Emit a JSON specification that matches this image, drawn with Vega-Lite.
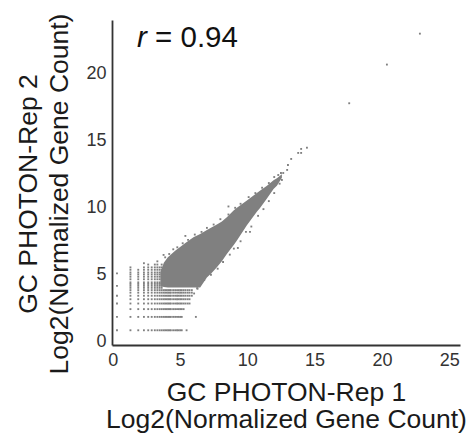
{
"$schema":"https://vega.github.io/schema/vega-lite/v6.json",
"width":348,"height":325,
"autosize":"none",
"padding":{"left":112,"top":20,"right":14,"bottom":91},
"background":"white",
"config":{"view":{"stroke":null},"font":"Liberation Sans"},
"datasets":{
"band":[
{"x":3.55,"lo":4.15,"hi":5.2},{"x":3.8,"lo":4.08,"hi":5.9},{"x":4.1,"lo":4.05,"hi":6.3},{"x":4.64,"lo":4.05,"hi":6.8},{"x":5.3,"lo":4.05,"hi":7.3},{"x":6.0,"lo":4.05,"hi":7.8},{"x":6.5,"lo":4.05,"hi":8.05},{"x":7.0,"lo":4.8,"hi":8.35},{"x":7.37,"lo":5.15,"hi":8.55},{"x":7.74,"lo":5.55,"hi":8.75},{"x":8.11,"lo":6.0,"hi":8.97},{"x":8.48,"lo":6.55,"hi":9.3},{"x":8.98,"lo":7.2,"hi":9.8},{"x":9.23,"lo":7.55,"hi":10.0},{"x":9.97,"lo":8.7,"hi":10.55},{"x":10.71,"lo":9.7,"hi":11.1},{"x":10.96,"lo":10.0,"hi":11.3},{"x":11.46,"lo":10.7,"hi":11.65},{"x":11.95,"lo":11.4,"hi":12.05},{"x":12.2,"lo":11.65,"hi":12.2},{"x":12.57,"lo":12.25,"hi":12.5}
],
"pts":[
{"x":0.32,"y":0.85},{"x":1.32,"y":0.85},{"x":1.9,"y":0.85},{"x":2.32,"y":0.85},{"x":2.64,"y":0.85},{"x":2.9,"y":0.85},{"x":3.13,"y":0.85},{"x":3.32,"y":0.85},{"x":3.49,"y":0.85},{"x":3.64,"y":0.85},{"x":3.78,"y":0.85},{"x":3.9,"y":0.85},{"x":4.02,"y":0.85},{"x":4.13,"y":0.85},{"x":4.23,"y":0.85},{"x":4.32,"y":0.85},{"x":4.49,"y":0.85},{"x":4.64,"y":0.85},{"x":4.78,"y":0.85},{"x":4.9,"y":0.85},{"x":5.02,"y":0.85},{"x":5.13,"y":0.85},{"x":5.49,"y":0.85},
{"x":0.32,"y":1.85},{"x":1.32,"y":1.85},{"x":1.9,"y":1.85},{"x":2.32,"y":1.85},{"x":2.64,"y":1.85},{"x":2.9,"y":1.85},{"x":3.13,"y":1.85},{"x":3.32,"y":1.85},{"x":3.49,"y":1.85},{"x":3.64,"y":1.85},{"x":3.78,"y":1.85},{"x":3.9,"y":1.85},{"x":4.02,"y":1.85},{"x":4.13,"y":1.85},{"x":4.23,"y":1.85},{"x":4.32,"y":1.85},{"x":4.49,"y":1.85},{"x":4.64,"y":1.85},{"x":4.78,"y":1.85},{"x":4.9,"y":1.85},{"x":5.02,"y":1.85},{"x":5.13,"y":1.85},{"x":6.18,"y":1.85},
{"x":1.32,"y":2.43},{"x":1.9,"y":2.43},{"x":2.32,"y":2.43},{"x":2.64,"y":2.43},{"x":2.9,"y":2.43},{"x":3.13,"y":2.43},{"x":3.32,"y":2.43},{"x":3.49,"y":2.43},{"x":3.64,"y":2.43},{"x":3.78,"y":2.43},{"x":3.9,"y":2.43},{"x":4.02,"y":2.43},{"x":4.13,"y":2.43},{"x":4.23,"y":2.43},{"x":4.32,"y":2.43},{"x":4.49,"y":2.43},{"x":4.64,"y":2.43},{"x":4.78,"y":2.43},{"x":4.9,"y":2.43},{"x":5.02,"y":2.43},{"x":5.13,"y":2.43},{"x":5.27,"y":2.43},
{"x":0.32,"y":2.85},{"x":1.32,"y":2.85},{"x":1.9,"y":2.85},{"x":2.32,"y":2.85},{"x":2.64,"y":2.85},{"x":2.9,"y":2.85},{"x":3.13,"y":2.85},{"x":3.32,"y":2.85},{"x":3.49,"y":2.85},{"x":3.64,"y":2.85},{"x":3.78,"y":2.85},{"x":3.9,"y":2.85},{"x":4.02,"y":2.85},{"x":4.13,"y":2.85},{"x":4.23,"y":2.85},{"x":4.32,"y":2.85},{"x":4.49,"y":2.85},{"x":4.64,"y":2.85},{"x":4.78,"y":2.85},{"x":4.9,"y":2.85},{"x":5.02,"y":2.85},{"x":5.13,"y":2.85},{"x":5.27,"y":2.85},{"x":5.41,"y":2.85},{"x":5.57,"y":2.85},{"x":5.71,"y":2.85},
{"x":1.32,"y":3.17},{"x":1.9,"y":3.17},{"x":2.32,"y":3.17},{"x":2.64,"y":3.17},{"x":2.9,"y":3.17},{"x":3.13,"y":3.17},{"x":3.32,"y":3.17},{"x":3.49,"y":3.17},{"x":3.64,"y":3.17},{"x":3.78,"y":3.17},{"x":3.9,"y":3.17},{"x":4.02,"y":3.17},{"x":4.13,"y":3.17},{"x":4.23,"y":3.17},{"x":4.32,"y":3.17},{"x":4.49,"y":3.17},{"x":4.64,"y":3.17},{"x":4.78,"y":3.17},{"x":4.9,"y":3.17},{"x":5.02,"y":3.17},{"x":5.13,"y":3.17},{"x":5.27,"y":3.17},{"x":5.41,"y":3.17},{"x":5.57,"y":3.17},{"x":5.71,"y":3.17},
{"x":0.32,"y":3.43},{"x":1.32,"y":3.43},{"x":1.9,"y":3.43},{"x":2.32,"y":3.43},{"x":2.64,"y":3.43},{"x":2.9,"y":3.43},{"x":3.13,"y":3.43},{"x":3.32,"y":3.43},{"x":3.49,"y":3.43},{"x":3.64,"y":3.43},{"x":3.78,"y":3.43},{"x":3.9,"y":3.43},{"x":4.02,"y":3.43},{"x":4.13,"y":3.43},{"x":4.23,"y":3.43},{"x":4.32,"y":3.43},{"x":4.49,"y":3.43},{"x":4.64,"y":3.43},{"x":4.78,"y":3.43},{"x":4.9,"y":3.43},{"x":5.02,"y":3.43},{"x":5.13,"y":3.43},{"x":5.27,"y":3.43},{"x":5.41,"y":3.43},{"x":5.57,"y":3.43},{"x":5.71,"y":3.43},{"x":5.88,"y":3.43},
{"x":1.32,"y":3.66},{"x":1.9,"y":3.66},{"x":2.32,"y":3.66},{"x":2.64,"y":3.66},{"x":2.9,"y":3.66},{"x":3.13,"y":3.66},{"x":3.32,"y":3.66},{"x":3.49,"y":3.66},{"x":3.64,"y":3.66},{"x":3.78,"y":3.66},{"x":3.9,"y":3.66},{"x":4.02,"y":3.66},{"x":4.13,"y":3.66},{"x":4.23,"y":3.66},{"x":4.32,"y":3.66},{"x":4.49,"y":3.66},{"x":4.64,"y":3.66},{"x":4.78,"y":3.66},{"x":4.9,"y":3.66},{"x":5.02,"y":3.66},{"x":5.13,"y":3.66},{"x":5.27,"y":3.66},{"x":5.41,"y":3.66},{"x":5.57,"y":3.66},{"x":5.71,"y":3.66},{"x":5.88,"y":3.66},
{"x":1.32,"y":3.85},{"x":1.9,"y":3.85},{"x":2.32,"y":3.85},{"x":2.64,"y":3.85},{"x":2.9,"y":3.85},{"x":3.13,"y":3.85},{"x":3.32,"y":3.85},{"x":3.49,"y":3.85},{"x":3.64,"y":3.85},{"x":3.78,"y":3.85},{"x":3.9,"y":3.85},{"x":4.02,"y":3.85},{"x":4.13,"y":3.85},{"x":4.23,"y":3.85},{"x":4.32,"y":3.85},{"x":4.49,"y":3.85},{"x":4.64,"y":3.85},{"x":4.78,"y":3.85},{"x":4.9,"y":3.85},{"x":5.02,"y":3.85},{"x":5.13,"y":3.85},{"x":5.27,"y":3.85},{"x":5.41,"y":3.85},{"x":5.57,"y":3.85},{"x":5.71,"y":3.85},{"x":5.88,"y":3.85},
{"x":0.32,"y":4.17},{"x":0.32,"y":5.1},
{"x":1.32,"y":4.02},{"x":1.32,"y":4.17},{"x":1.32,"y":4.31},{"x":1.32,"y":4.43},{"x":1.32,"y":4.66},{"x":1.32,"y":4.85},{"x":1.32,"y":5.02},{"x":1.32,"y":5.17},{"x":1.32,"y":5.37},{"x":1.32,"y":5.55},
{"x":1.9,"y":4.02},{"x":1.9,"y":4.17},{"x":1.9,"y":4.31},{"x":1.9,"y":4.43},{"x":1.9,"y":4.66},{"x":1.9,"y":4.85},{"x":1.9,"y":5.02},{"x":1.9,"y":5.17},{"x":1.9,"y":5.37},
{"x":2.32,"y":4.02},{"x":2.32,"y":4.17},{"x":2.32,"y":4.31},{"x":2.32,"y":4.43},{"x":2.32,"y":4.66},{"x":2.32,"y":4.85},{"x":2.32,"y":5.02},{"x":2.32,"y":5.17},{"x":2.32,"y":5.37},{"x":2.32,"y":5.55},{"x":2.32,"y":5.86},
{"x":2.64,"y":4.02},{"x":2.64,"y":4.17},{"x":2.64,"y":4.31},{"x":2.64,"y":4.43},{"x":2.64,"y":4.66},{"x":2.64,"y":4.85},{"x":2.64,"y":5.02},{"x":2.64,"y":5.17},{"x":2.64,"y":5.37},{"x":2.64,"y":5.55},{"x":2.64,"y":5.76},
{"x":2.9,"y":4.02},{"x":2.9,"y":4.17},{"x":2.9,"y":4.31},{"x":2.9,"y":4.43},{"x":2.9,"y":4.66},{"x":2.9,"y":4.85},{"x":2.9,"y":5.02},{"x":2.9,"y":5.17},{"x":2.9,"y":5.37},{"x":2.9,"y":5.55},
{"x":3.13,"y":4.02},{"x":3.13,"y":4.17},{"x":3.13,"y":4.31},{"x":3.13,"y":4.43},{"x":3.13,"y":4.66},{"x":3.13,"y":4.85},{"x":3.13,"y":5.02},{"x":3.13,"y":5.17},{"x":3.13,"y":5.37},{"x":3.13,"y":5.55},{"x":3.13,"y":5.76},
{"x":3.32,"y":4.02},{"x":3.32,"y":4.17},{"x":3.32,"y":4.31},{"x":3.32,"y":4.43},{"x":3.32,"y":4.66},{"x":3.32,"y":4.85},{"x":3.32,"y":5.02},{"x":3.32,"y":5.17},{"x":3.32,"y":5.37},{"x":3.32,"y":5.55},{"x":3.32,"y":5.76},
{"x":3.49,"y":4.02},{"x":3.49,"y":4.17},{"x":3.49,"y":4.31},{"x":3.49,"y":4.43},{"x":3.49,"y":4.66},{"x":3.49,"y":4.85},{"x":3.49,"y":5.02},{"x":3.49,"y":5.17},{"x":3.49,"y":5.37},{"x":3.49,"y":5.55},
{"x":3.64,"y":4.02},{"x":3.64,"y":4.17},{"x":3.64,"y":4.31},{"x":3.64,"y":4.43},{"x":3.64,"y":4.66},{"x":3.64,"y":4.85},{"x":3.64,"y":5.02},{"x":3.64,"y":5.17},{"x":3.64,"y":5.37},{"x":3.64,"y":5.55},{"x":3.64,"y":5.76},
{"x":3.32,"y":6.0},{"x":3.78,"y":6.48},
{"x":3.9,"y":6.3},{"x":4.2,"y":6.55},{"x":4.5,"y":6.9},{"x":4.8,"y":7.05},{"x":5.2,"y":7.35},{"x":5.4,"y":7.9},{"x":5.6,"y":7.6},{"x":6.1,"y":8.0},{"x":6.6,"y":8.2},{"x":7.0,"y":8.5},{"x":7.5,"y":8.75},{"x":8.0,"y":9.15},{"x":8.6,"y":9.5},{"x":8.6,"y":10.1},{"x":9.1,"y":10.0},{"x":9.5,"y":10.3},{"x":10.1,"y":10.8},{"x":10.6,"y":11.1},{"x":11.1,"y":11.5},{"x":11.6,"y":11.85},{"x":12.0,"y":12.3},{"x":12.3,"y":12.45},{"x":12.5,"y":12.6},
{"x":6.05,"y":3.6},{"x":6.28,"y":4.0},{"x":6.3,"y":3.95},{"x":6.8,"y":4.6},{"x":7.3,"y":5.0},{"x":7.8,"y":5.45},{"x":8.2,"y":5.95},{"x":8.7,"y":6.5},{"x":9.0,"y":6.95},{"x":9.3,"y":7.0},{"x":9.5,"y":7.5},{"x":9.9,"y":8.2},{"x":10.2,"y":8.2},{"x":10.3,"y":8.6},{"x":10.8,"y":9.4},{"x":11.2,"y":9.9},{"x":11.6,"y":10.5},{"x":12.0,"y":11.1},{"x":12.4,"y":11.8},{"x":12.57,"y":12.08},
{"x":12.67,"y":12.6},{"x":12.96,"y":12.83},{"x":13.02,"y":13.2},{"x":13.26,"y":13.65},{"x":13.78,"y":14.1},{"x":14.0,"y":14.1},{"x":14.0,"y":14.4},{"x":14.43,"y":14.49},{"x":17.57,"y":17.81},{"x":20.37,"y":20.7},{"x":22.82,"y":23.01}
]
},
"layer":[
{"data":{"name":"band"},
 "mark":{"type":"area","color":"#808080","opacity":1},
 "encoding":{
  "x":{"field":"x","type":"quantitative","scale":{"domain":[-0.05,25.8],"nice":false,"zero":false},
   "axis":{"title":["GC PHOTON-Rep 1","Log2(Normalized Gene Count)"],"values":[0,5,10,15,20,25],"grid":false,"ticks":false,"tickSize":0,"labelPadding":6,"labelFontSize":18,"labelColor":"#333333","labelFont":"Liberation Sans","labelFlush":false,"labelOverlap":false,"domainColor":"#333333","domainWidth":1.8,"titleFont":"Liberation Sans","titleFontSize":26.5,"titleFontWeight":"normal","titleColor":"#1a1a1a","titleLineHeight":27,"titleBaseline":"alphabetic","titleAlign":"center","titleX":174,"titleY":55}},
  "y":{"field":"hi","type":"quantitative","scale":{"domain":[-0.25,24.03],"nice":false,"zero":false},
   "axis":{"title":["GC PHOTON-Rep 2","Log2(Normalized Gene Count)"],"values":[0,5,10,15,20],"grid":false,"ticks":false,"tickSize":0,"labelPadding":6,"labelFontSize":18,"labelColor":"#333333","labelFont":"Liberation Sans","labelFlush":false,"labelOverlap":false,"domainColor":"#333333","domainWidth":1.8,"titleFont":"Liberation Sans","titleFontSize":26.5,"titleFontWeight":"normal","titleColor":"#1a1a1a","titleLineHeight":31,"titleBaseline":"alphabetic","titleAlign":"center","titleAngle":-90,"titleX":-76,"titleY":173.5}},
  "y2":{"field":"lo"}
 }},
{"data":{"name":"pts"},
 "mark":{"type":"square","size":3.5,"color":"#808080","opacity":1},
 "encoding":{"x":{"field":"x","type":"quantitative"},"y":{"field":"y","type":"quantitative"}}},
{"data":{"values":[{"x":1.8,"y":22.04,"t":"r"}]},
 "mark":{"type":"text","fontStyle":"italic","fontSize":29.5,"font":"Liberation Sans","align":"left","baseline":"alphabetic","color":"#111111"},
 "encoding":{"x":{"field":"x","type":"quantitative"},"y":{"field":"y","type":"quantitative"},"text":{"field":"t"}}},
{"data":{"values":[{"x":3.15,"y":22.04,"t":"= 0.94"}]},
 "mark":{"type":"text","fontSize":29.5,"font":"Liberation Sans","align":"left","baseline":"alphabetic","color":"#111111"},
 "encoding":{"x":{"field":"x","type":"quantitative"},"y":{"field":"y","type":"quantitative"},"text":{"field":"t"}}}
]
}
